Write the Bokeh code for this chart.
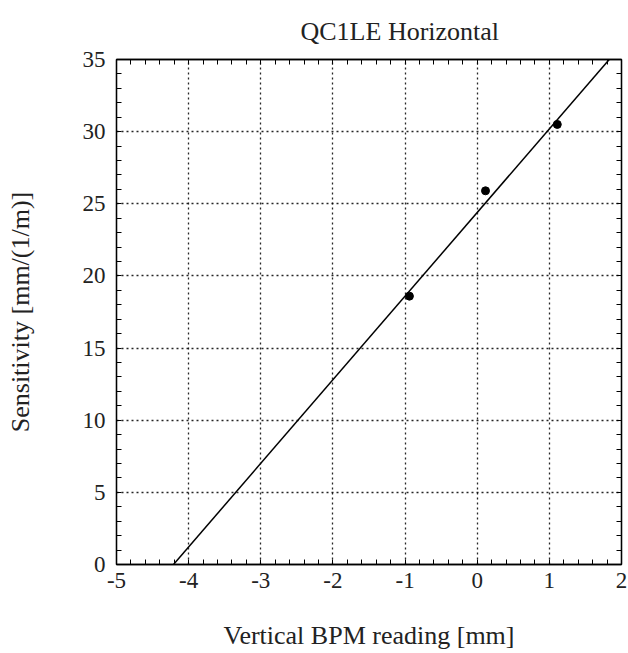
from bokeh.plotting import figure
from bokeh.models import LinearAxis, FixedTicker, Title
from bokeh.embed import file_html
from bokeh.resources import INLINE

# data
bpm_x = [-0.94, 0.115, 1.11]
sens_y = [18.6, 25.9, 30.5]
fit_x = [-4.21, 1.83]
fit_y = [0.0, 35.0]
x_ticks = [-5, -4, -3, -2, -1, 0, 1, 2]
y_ticks = [0, 5, 10, 15, 20, 25, 30, 35]
x_minor = [round(-5 + 0.2 * i, 2) for i in range(36)]
y_minor = list(range(0, 36))

FONT = "Liberation Serif"
TXT = "#222222"

p = figure(width=628, height=653, frame_width=505, frame_height=505,
           x_range=(-5, 2), y_range=(0, 35), output_backend="svg",
           toolbar_location=None, min_border_left=116, min_border_right=7,
           min_border_top=59, min_border_bottom=89)
p.title = None

p.outline_line_color = "black"
p.outline_line_width = 1.3

for ax, ticks, minor in ((p.xaxis[0], x_ticks, x_minor), (p.yaxis[0], y_ticks, y_minor)):
    ax.ticker = FixedTicker(ticks=ticks, minor_ticks=minor)
    ax.major_label_overrides = {t: str(t) for t in ticks}
    ax.major_tick_in = 0
    ax.major_tick_out = 0
    ax.minor_tick_in = 5
    ax.minor_tick_out = 0
    ax.axis_line_color = "black"
    ax.axis_line_width = 1.3
    ax.minor_tick_line_color = "black"
    ax.major_label_text_font = FONT
    ax.major_label_text_font_size = "23px"
    ax.major_label_text_color = TXT
    ax.axis_label_text_font = FONT
    ax.axis_label_text_font_size = "26px"
    ax.axis_label_text_font_style = "normal"
    ax.axis_label_text_color = TXT

p.xaxis[0].axis_label = "Vertical BPM reading [mm]"
p.xaxis[0].major_label_standoff = 8
p.xaxis[0].axis_label_standoff = 30
p.yaxis[0].axis_label = "Sensitivity [mm/(1/m)]"
p.yaxis[0].major_label_standoff = 11
p.yaxis[0].axis_label_standoff = 45

for loc, ticks, minor in (("above", x_ticks, x_minor), ("right", y_ticks, y_minor)):
    a = LinearAxis(ticker=FixedTicker(ticks=ticks, minor_ticks=minor))
    a.major_label_overrides = {t: "" for t in ticks}
    a.major_label_text_font_size = "1px"
    a.major_tick_in = 0
    a.major_tick_out = 0
    a.minor_tick_in = 5
    a.minor_tick_out = 0
    a.axis_line_color = "black"
    a.axis_line_width = 1.3
    a.minor_tick_line_color = "black"
    a.major_label_standoff = 0
    p.add_layout(a, loc)

p.add_layout(Title(text="QC1LE Horizontal", align="left", text_font=FONT,
                   text_font_size="26px", text_font_style="normal",
                   text_color=TXT, offset=184, standoff=27), "above")

p.xgrid[0].ticker = FixedTicker(ticks=x_ticks[1:-1])
p.ygrid[0].ticker = FixedTicker(ticks=y_ticks[1:-1])
for g in (p.xgrid[0], p.ygrid[0]):
    g.grid_line_color = "black"
    g.grid_line_dash = "2 3"
    g.grid_line_width = 1.3
    g.grid_line_alpha = 0.85

p.line(fit_x, fit_y, line_color="black", line_width=1.5)
p.scatter(bpm_x, sens_y, size=8, color="black")

open("out.html", "w").write(file_html(p, INLINE))
